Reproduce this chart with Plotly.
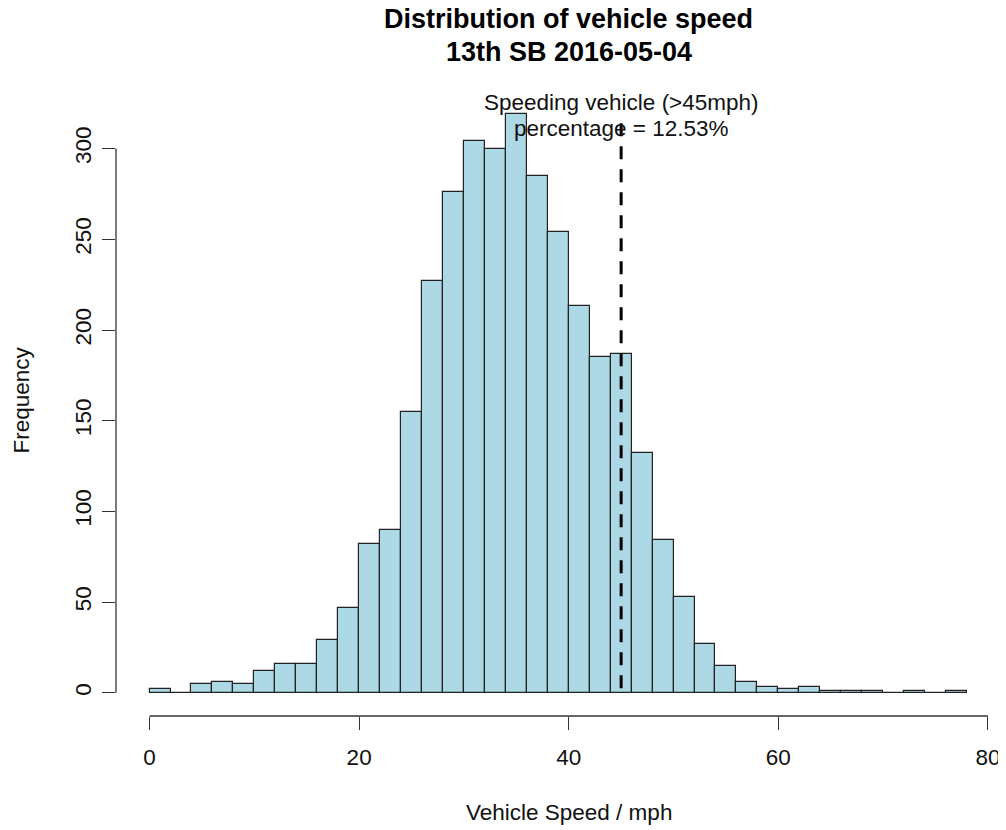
import plotly.graph_objects as go

# ---- data ----
bin_left = list(range(0, 78, 2))          # bin left edges (mph)
bin_width = 2
counts = [2, 0, 5, 6, 5, 12, 16, 16, 29, 47, 82, 90, 155, 227, 276, 304, 300,
          319, 285, 254, 213, 185, 187, 132, 84, 53, 27, 15, 6, 3, 2, 3, 1, 1,
          1, 0, 1, 0, 1]
x_ticks = [0, 20, 40, 60, 80]
y_ticks = [0, 50, 100, 150, 200, 250, 300]
speed_limit = 45
line_top = 314
pct_text = "12.53%"

title1 = "Distribution of vehicle speed"
title2 = "13th SB 2016-05-04"
x_title = "Vehicle Speed / mph"
y_title = "Frequency"

FONT = "Liberation Sans, Arial, sans-serif"
FS = 22.5

# page body has an 8px margin: figure sits at (8, 8) in the window
OFF = 8
W, H = 1006 - OFF, 830 - OFF
# plot region in page pixels: left 116.5, right 1006, top 91, bottom 716
ML = 116 - OFF
MR = 0
MT = 91 - OFF
MB = 830 - 716
PX_PER_X = 10.48
x_lo = -3.2
x_hi = x_lo + (W - ML - MR) / PX_PER_X
y_lo, y_hi = -0.04 * max(counts), 1.04 * max(counts)
plot_h = H - MT - MB


def py(p):
    """page pixel row -> paper y"""
    return (H - MB - (p - OFF)) / plot_h


def px(p):
    """page pixel column -> paper x"""
    return ((p - OFF) - ML) / (W - ML - MR)


centers = [b + bin_width / 2 for b in bin_left]

fig = go.Figure()
fig.add_trace(go.Bar(
    x=centers, y=counts, width=[bin_width] * len(counts),
    marker=dict(color="#ADD8E6", line=dict(color="#222222", width=1.2)),
    hoverinfo="x+y", showlegend=False,
))
fig.add_trace(go.Scatter(
    x=[speed_limit, speed_limit], y=[line_top, 0], mode="lines",
    line=dict(color="black", width=3, dash="13px,10px"),
    showlegend=False, hoverinfo="skip",
))

annotations = [
    dict(text="<b>%s</b>" % title1, x=40, xref="x", y=py(19), yref="paper",
         xanchor="center", yanchor="middle", showarrow=False,
         font=dict(size=27, family=FONT, color="black")),
    dict(text="<b>%s</b>" % title2, x=40, xref="x", y=py(51.5), yref="paper",
         xanchor="center", yanchor="middle", showarrow=False,
         font=dict(size=27, family=FONT, color="black")),
    dict(text="Speeding vehicle (>%dmph)" % speed_limit, x=speed_limit, xref="x",
         y=py(102.5), yref="paper", xanchor="center", yanchor="middle",
         showarrow=False, font=dict(size=FS, family=FONT, color="#111111")),
    dict(text="percentage = %s" % pct_text, x=speed_limit, xref="x",
         y=py(128), yref="paper", xanchor="center", yanchor="middle",
         showarrow=False, font=dict(size=FS, family=FONT, color="#111111")),
    dict(text=x_title, x=40, xref="x", y=py(812), yref="paper",
         xanchor="center", yanchor="middle", showarrow=False,
         font=dict(size=FS, family=FONT, color="#111111")),
    dict(text=y_title, x=px(21), xref="paper", y=py(400.5), yref="paper",
         xanchor="center", yanchor="middle", showarrow=False, textangle=-90,
         font=dict(size=FS, family=FONT, color="#111111")),
]

shapes = [
    dict(type="line", xref="x", yref="paper", x0=x_ticks[0], x1=x_ticks[-1],
         y0=0, y1=0, line=dict(color="#333333", width=1.3)),
    dict(type="line", xref="paper", yref="y", x0=0, x1=0,
         y0=y_ticks[0], y1=y_ticks[-1], line=dict(color="#333333", width=1.3)),
]

fig.update_layout(
    width=W, height=H,
    margin=dict(l=ML, r=MR, t=MT, b=MB, pad=0),
    paper_bgcolor="white", plot_bgcolor="white",
    font=dict(family=FONT, size=FS, color="#111111"),
    bargap=0,
    annotations=annotations,
    shapes=shapes,
    xaxis=dict(range=[x_lo, x_hi], tickvals=x_ticks, ticks="outside",
               ticklen=13, tickwidth=1.3, tickcolor="#333333",
               showline=False, showgrid=False, zeroline=False,
               tickfont=dict(size=FS, family=FONT, color="#111111"),
               ticklabelstandoff=8),
    yaxis=dict(range=[y_lo, y_hi], tickvals=y_ticks, ticks="outside",
               ticklen=13, tickwidth=1.3, tickcolor="#333333", tickangle=-90,
               showline=False, showgrid=False, zeroline=False,
               tickfont=dict(size=FS, family=FONT, color="#111111"),
               ticklabelstandoff=2),
)

fig.write_html("out.html")
